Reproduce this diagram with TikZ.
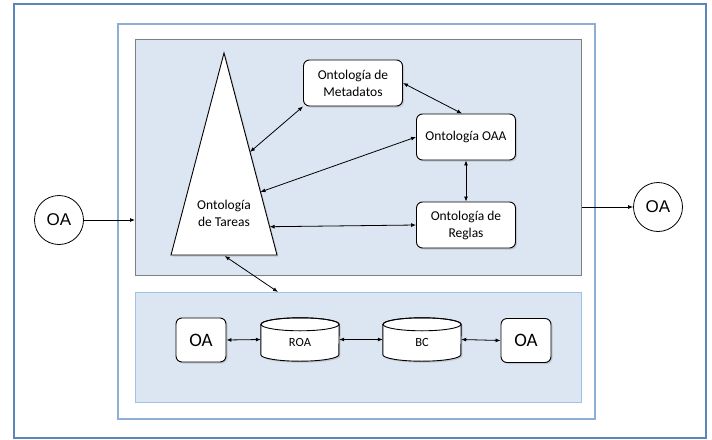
\documentclass[tikz,border=0pt]{standalone}
\usepackage{fontspec}
\setmainfont{Carlito}
\newfontfamily\arialf{Liberation Sans}
\usetikzlibrary{arrows.meta,calc,shadows}

\definecolor{panelfill}{HTML}{DCE6F2}
\definecolor{outerblue}{HTML}{5A86B8}
\definecolor{midblue}{HTML}{8FAED6}
\definecolor{topgray}{HTML}{7F7F7F}
\definecolor{botblue}{HTML}{9DC3E6}

\begin{document}
\begin{tikzpicture}[x=1pt,y=-1pt,
  shadowed/.style={drop shadow={shadow xshift=1.5pt,shadow yshift=-1.5pt,opacity=0.3}},
  ont/.style={draw=black, fill=white, rounded corners=6pt, line width=0.9pt,
    minimum width=99pt, minimum height=46pt, align=center, inner sep=0pt,
    font=\fontsize{13.5}{17}\selectfont, shadowed},
  oabox/.style={draw=black, fill=white, rounded corners=6pt, line width=0.9pt,
    minimum width=50pt, minimum height=44pt, inner sep=0pt,
    font=\fontsize{19}{22}\selectfont, shadowed},
  oacirc/.style={draw=black, fill=white, circle, line width=0.8pt,
    minimum size=49pt, inner sep=0pt, font=\arialf\fontsize{17}{20}\selectfont},
  cylnode/.style={minimum width=78pt, minimum height=43pt, inner sep=0pt,
    font=\fontsize{12.5}{15}\selectfont},
  arr/.style={{Latex[length=5pt,width=4pt]}-{Latex[length=5pt,width=4pt]}, line width=0.8pt},
  sarr/.style={-{Latex[length=5pt,width=4pt]}, line width=0.8pt}
]
\useasboundingbox (0,0) rectangle (712,439);

% frames
\draw[outerblue, line width=2pt] (14,3.5) rectangle (705.5,437.8);
\draw[midblue, line width=1.6pt] (118,24) rectangle (595,419);
\node[draw=topgray, fill=panelfill, line width=1pt, minimum width=446pt,
  minimum height=236pt, inner sep=0pt, anchor=north west] (top) at (135,39) {};
\node[draw=botblue, fill=panelfill, line width=1pt, minimum width=446pt,
  minimum height=110pt, inner sep=0pt, anchor=north west] (bot) at (135,292) {};

% triangle
\coordinate (tA) at (224,53);
\coordinate (tL) at (171,255);
\coordinate (tR) at (277,255);
\draw[fill=white, line width=0.9pt, shadowed] (tA) -- (tR) -- (tL) -- cycle;
\node[font=\fontsize{13.5}{17}\selectfont, align=center] (tareas) at (224,213) {Ontología\\de Tareas};

% ontology boxes
\node[ont] (meta) at (353,83) {Ontología de\\Metadatos};
\node[ont] (oaa) at (466,137) {Ontología OAA};
\node[ont] (reglas) at (466,225) {Ontología de\\Reglas};

% outside circles
\node[oacirc] (oain) at (59,220) {OA};
\node[oacirc] (oaout) at (658,207) {OA};

% bottom row
\node[oabox] (oa1) at (201,340) {OA};
\node[cylnode] (roa) at (300,339.5) {};
\node[cylnode] (bc) at (422,339.5) {};
\node[oabox] (oa2) at (526,340.5) {OA};

\foreach \c/\t in {roa/ROA, bc/BC}{
  \filldraw[fill=white, line width=0.9pt, shadowed]
    ($(\c.north west)+(0,6.5)$) -- ($(\c.south west)+(0,-6.5)$)
    arc[start angle=180, end angle=360, x radius=39pt, y radius=6.5pt]
    -- ($(\c.north east)+(0,6.5)$)
    arc[start angle=0, end angle=180, x radius=39pt, y radius=6.5pt] -- cycle;
  \draw[line width=0.9pt] ($(\c.north)+(0,6.5)$) ellipse[x radius=39pt, y radius=6.5pt];
  \node[font=\fontsize{12.5}{15}\selectfont] at ($(\c.center)+(0,3)$) {\t};
}

% connectors
\coordinate (tmeta) at ($(tA)!0.49!(tR)$);
\coordinate (toaa) at ($(tA)!0.688!(tR)$);
\coordinate (treg) at ($(tA)!0.86!(tR)$);
\coordinate (tbase) at (224.7,256);
\coordinate (botin) at (278,292);

\draw[arr] (meta.south west) -- (tmeta);
\draw[arr] (meta.east) -- ($(oaa.north)+(-4,0)$);
\draw[arr] (oaa.west) -- (toaa);
\draw[arr] (oaa.south) -- (reglas.north);
\draw[arr] (reglas.west) -- (treg);
\draw[arr] (tbase) -- (botin);

\draw[sarr] (oain.east) -- (oain.east -| top.west);
\draw[sarr] (top.east |- oaout.west) -- (oaout.west);

\draw[arr] (oa1.east) -- (roa.west);
\draw[arr] (roa.east) -- (bc.west);
\draw[arr] (bc.east) -- (oa2.west);
\end{tikzpicture}
\end{document}
